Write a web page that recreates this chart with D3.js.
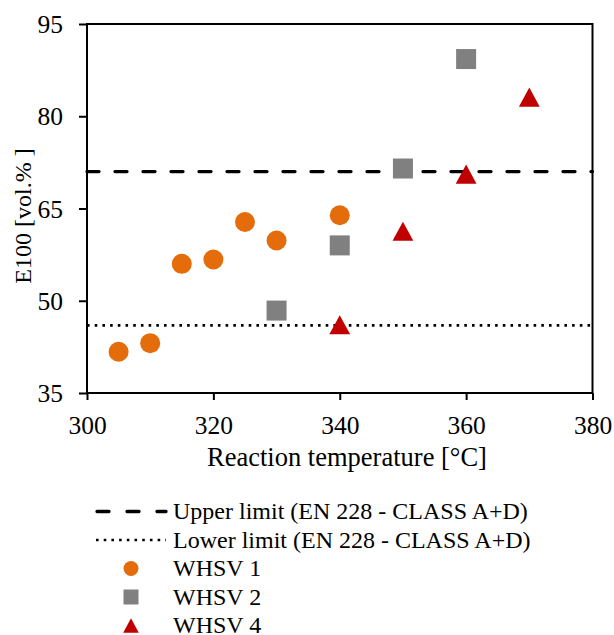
<!DOCTYPE html>
<html>
<head>
<meta charset="utf-8">
<script src="https://cdn.jsdelivr.net/npm/d3@7"></script>
<style>
  body { margin: 0; background: #fff; }
  svg text { font-family: "Liberation Serif", "Times New Roman", serif; fill: #000; }
</style>
</head>
<body>
<div class="chart"></div>
<script>
// values
var xTicks = [300, 320, 340, 360, 380];
var yTicks = [35, 50, 65, 80, 95];

var tempWHSV1 = [305, 310, 315, 320, 325, 330, 340];
var e100WHSV1 = [41.7, 43.1, 56.0, 56.7, 62.8, 59.8, 63.9];

var tempWHSV2 = [330, 340, 350, 360];
var e100WHSV2 = [48.4, 59.0, 71.5, 89.3];

var tempWHSV4 = [340, 350, 360, 370];
var e100WHSV4 = [46.1, 61.3, 70.6, 83.1];

var upperLimit = 71;
var lowerLimit = 46;

var limitLabels = ["Upper limit (EN 228 - CLASS A+D)", "Lower limit (EN 228 - CLASS A+D)"];
var seriesLabels = ["WHSV 1", "WHSV 2", "WHSV 4"];

var width = 614, height = 635;
var mLeft = 87, mRight = 592.5, mTop = 24, mBottom = 393;

var svg = d3.select(".chart").append("svg")
    .attr("width", width).attr("height", height);

var x = d3.scaleLinear().domain([300, 380]).range([mLeft, mRight]);
var y = d3.scaleLinear().domain([35, 95]).range([mBottom, mTop]);

// limit lines
var lineStyles = [
    { v: upperLimit, dash: "12 16", w: 3.3, cap: "round" },
    { v: lowerLimit, dash: "2.6 5.1", w: 2.6, cap: "butt" }
];
svg.append("g").selectAll("line")
    .data(lineStyles)
    .enter().append("line")
    .attr("x1", x(300)).attr("x2", x(380))
    .attr("y1", d => y(d.v)).attr("y2", d => y(d.v))
    .attr("stroke", "#000")
    .attr("stroke-width", d => d.w)
    .attr("stroke-dasharray", d => d.dash)
    .attr("stroke-linecap", d => d.cap);

// axes
var xAxis = svg.append("g")
    .attr("transform", "translate(0," + mBottom + ")")
    .call(d3.axisBottom(x).tickValues(xTicks).tickSize(7).tickSizeOuter(0));
var yAxis = svg.append("g")
    .attr("transform", "translate(" + mLeft + ",0)")
    .call(d3.axisLeft(y).tickValues(yTicks).tickSize(8).tickSizeOuter(0));

[xAxis, yAxis].forEach(a => {
    a.attr("font-family", null).attr("font-size", null);
    a.selectAll("path.domain").remove();
    a.selectAll(".tick line").attr("stroke", "#000").attr("stroke-width", 2);
    a.selectAll(".tick text").style("font-size", "25.5px").attr("fill", "#000");
});
xAxis.selectAll(".tick text").attr("y", 40.5).attr("dy", null);
yAxis.selectAll(".tick text").attr("x", -24).attr("dy", "0.34em");

// plot box
svg.append("rect")
    .attr("x", mLeft).attr("y", mTop)
    .attr("width", mRight - mLeft).attr("height", mBottom - mTop)
    .attr("fill", "none").attr("stroke", "#000").attr("stroke-width", 2);

// axis titles
svg.append("text")
    .attr("x", 347).attr("y", 465.5)
    .attr("text-anchor", "middle")
    .style("font-size", "26.5px")
    .text("Reaction temperature [°C]");

svg.append("text")
    .attr("transform", "translate(31,216) rotate(-90)")
    .attr("text-anchor", "middle")
    .style("font-size", "24px")
    .text("E100 [vol.% ]");

// markers
var triangle = s => "M0," + (-s * 0.48) + "L" + (s * 0.52) + "," + (s * 0.48) + "L" + (-s * 0.52) + "," + (s * 0.48) + "Z";

svg.append("g").selectAll("circle")
    .data(tempWHSV1.map((t, i) => [t, e100WHSV1[i]]))
    .enter().append("circle")
    .attr("cx", d => x(d[0])).attr("cy", d => y(d[1]))
    .attr("r", 10)
    .attr("fill", "#E46C0A");

svg.append("g").selectAll("rect")
    .data(tempWHSV2.map((t, i) => [t, e100WHSV2[i]]))
    .enter().append("rect")
    .attr("x", d => x(d[0]) - 10).attr("y", d => y(d[1]) - 10)
    .attr("width", 20).attr("height", 20)
    .attr("fill", "#808080");

svg.append("g").selectAll("path")
    .data(tempWHSV4.map((t, i) => [t, e100WHSV4[i]]))
    .enter().append("path")
    .attr("transform", d => "translate(" + x(d[0]) + "," + y(d[1]) + ")")
    .attr("d", triangle(20))
    .attr("fill", "#C00000");

// legend
var legend = svg.append("g");
var rowY = [511.5, 540, 568.5, 597, 625.5];

limitLabels.forEach((lab, i) => {
    var s = lineStyles[i];
    legend.append("line")
        .attr("x1", i == 0 ? 97 : 96).attr("x2", 166)
        .attr("y1", rowY[i]).attr("y2", rowY[i])
        .attr("stroke", "#000")
        .attr("stroke-width", s.w)
        .attr("stroke-dasharray", i == 0 ? "12 18" : s.dash)
        .attr("stroke-linecap", s.cap);
    legend.append("text")
        .attr("x", 173).attr("y", rowY[i]).attr("dy", "0.33em")
        .style("font-size", "24px")
        .text(lab);
});

var mx = 131;
legend.append("circle").attr("cx", mx).attr("cy", rowY[2]).attr("r", 7.5).attr("fill", "#E46C0A");
legend.append("rect").attr("x", mx - 7.5).attr("y", rowY[3] - 7.5).attr("width", 15).attr("height", 15).attr("fill", "#808080");
legend.append("path").attr("transform", "translate(" + mx + "," + rowY[4] + ")").attr("d", triangle(15)).attr("fill", "#C00000");

seriesLabels.forEach((lab, i) => {
    legend.append("text")
        .attr("x", 173).attr("y", rowY[i + 2]).attr("dy", "0.33em")
        .style("font-size", "24px")
        .text(lab);
});
</script>
</body>
</html>
